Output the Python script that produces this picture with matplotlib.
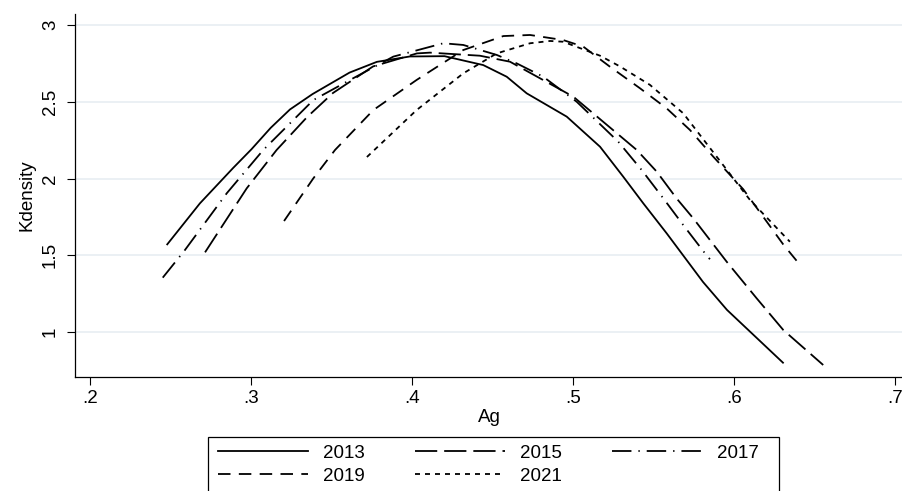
import matplotlib
matplotlib.use("Agg")
import matplotlib.pyplot as plt
from matplotlib.patches import Rectangle
from matplotlib.ticker import FixedLocator, FixedFormatter

# 曲线数据
x_2013 = [0.2477, 0.268, 0.2886, 0.300, 0.312, 0.324, 0.338, 0.361, 0.378, 0.3985, 0.42,
          0.4441, 0.4587, 0.4711, 0.4960, 0.5167, 0.5311, 0.5436, 0.5581, 0.5807, 0.5956, 0.6304]
y_2013 = [1.571, 1.838, 2.068, 2.19, 2.33, 2.45, 2.55, 2.69, 2.76, 2.795, 2.797,
          2.739, 2.663, 2.555, 2.403, 2.207, 2.012, 1.838, 1.643, 1.326, 1.144, 0.80]

x_2015 = [0.2712, 0.2971, 0.3157, 0.3346, 0.3507, 0.3756, 0.4029, 0.411, 0.442, 0.4607,
          0.5001, 0.5395, 0.5519, 0.5643, 0.5746, 0.5954, 0.614, 0.6306, 0.6554]
y_2015 = [1.519, 1.936, 2.186, 2.40, 2.557, 2.73, 2.815, 2.82, 2.80, 2.761,
          2.533, 2.186, 2.045, 1.87, 1.741, 1.458, 1.22, 1.013, 0.785]

x_2017 = [0.2449, 0.2587, 0.2847, 0.3074, 0.3385, 0.3613, 0.3882, 0.4193, 0.4317, 0.4525,
          0.4649, 0.4814, 0.5022, 0.528, 0.5426, 0.556, 0.5684, 0.5819, 0.585]
y_2017 = [1.354, 1.534, 1.904, 2.186, 2.511, 2.642, 2.794, 2.881, 2.87, 2.805,
          2.75, 2.663, 2.50, 2.24, 2.055, 1.871, 1.697, 1.513, 1.474]

x_2019 = [0.3203, 0.3385, 0.352, 0.3758, 0.4027, 0.4317, 0.4566, 0.4732, 0.4938, 0.5063,
          0.5229, 0.5415, 0.5581, 0.5726, 0.5871, 0.6057, 0.6306, 0.6410]
y_2019 = [1.723, 2.001, 2.186, 2.446, 2.642, 2.837, 2.928, 2.935, 2.902, 2.859,
          2.728, 2.588, 2.457, 2.316, 2.142, 1.93, 1.57, 1.437]

x_2021 = [0.3718, 0.4027, 0.4317, 0.4525, 0.4732, 0.4856, 0.4938, 0.5167, 0.5291, 0.5477,
          0.5684, 0.5892, 0.6099, 0.6347]
y_2021 = [2.14, 2.446, 2.685, 2.815, 2.881, 2.896, 2.891, 2.80, 2.73, 2.61,
          2.425, 2.142, 1.86, 1.588]

years = ['2013', '2015', '2017', '2019', '2021']
x_ticks = [0.2, 0.3, 0.4, 0.5, 0.6, 0.7]
x_tick_labels = ['.2', '.3', '.4', '.5', '.6', '.7']
y_ticks = [1, 1.5, 2, 2.5, 3]
y_tick_labels = ['1', '1.5', '2', '2.5', '3']

plt.rcParams['font.family'] = ['Liberation Sans', 'DejaVu Sans']
plt.rcParams['lines.scale_dashes'] = False

FS = 13.5
styles = [
    '-',
    (0, (16, 5)),
    (0, (14, 5, 1, 5)),
    (0, (9, 6)),
    (0, (3.6, 3.6)),
]

fig = plt.figure(figsize=(9.03, 4.91), dpi=100)
ax = fig.add_axes([75 / 903, (491 - 377) / 491, 828 / 903, 363 / 491])

series = [(x_2013, y_2013), (x_2015, y_2015), (x_2017, y_2017),
          (x_2019, y_2019), (x_2021, y_2021)]
handles = []
for (xs, ys), ls, lab in zip(series, styles, years):
    h, = ax.plot(xs, ys, color='black', lw=1.3, linestyle=ls, label=lab,
                 solid_joinstyle='round', dash_joinstyle='round')
    handles.append(h)

ax.set_xlim(0.19037, 0.705)
ax.set_ylim(0.7068, 3.0717)

ax.xaxis.set_major_locator(FixedLocator(x_ticks))
ax.xaxis.set_major_formatter(FixedFormatter(x_tick_labels))
ax.yaxis.set_major_locator(FixedLocator(y_ticks))
ax.yaxis.set_major_formatter(FixedFormatter(y_tick_labels))

for t in ax.get_yticklabels():
    t.set_rotation(90)
    t.set_va('center')

ax.tick_params(axis='both', direction='out', length=5.5, width=0.8,
               labelsize=FS, color='black')
ax.tick_params(axis='x', pad=4)
ax.tick_params(axis='y', pad=6)

ax.grid(axis='y', color='#e8eef2', lw=1.2)
ax.set_axisbelow(True)
for s in ['top', 'right']:
    ax.spines[s].set_visible(False)
for s in ['left', 'bottom']:
    ax.spines[s].set_linewidth(0.9)

ax.set_xlabel('Ag', fontsize=FS, labelpad=1)
ax.set_ylabel('Kdensity', fontsize=FS, labelpad=5)

# 图例：边框单独画，按行排列
fig.patches.append(Rectangle((208 / 903, -0.1), (779 - 208) / 903, 0.1 + (491 - 437) / 491,
                             transform=fig.transFigure, fill=False,
                             edgecolor='black', lw=0.9))
order = [0, 3, 1, 4, 2]
fig.legend(handles=[handles[i] for i in order],
           labels=[years[i] for i in order], ncol=3, loc='upper left',
           bbox_to_anchor=(218 / 903, (491 - 444.5) / 491),
           frameon=False, fontsize=FS, borderpad=0, borderaxespad=0,
           handlelength=4.8, handletextpad=0.8, columnspacing=2.67,
           labelspacing=0.33)

fig.savefig('out.png', dpi=100)
